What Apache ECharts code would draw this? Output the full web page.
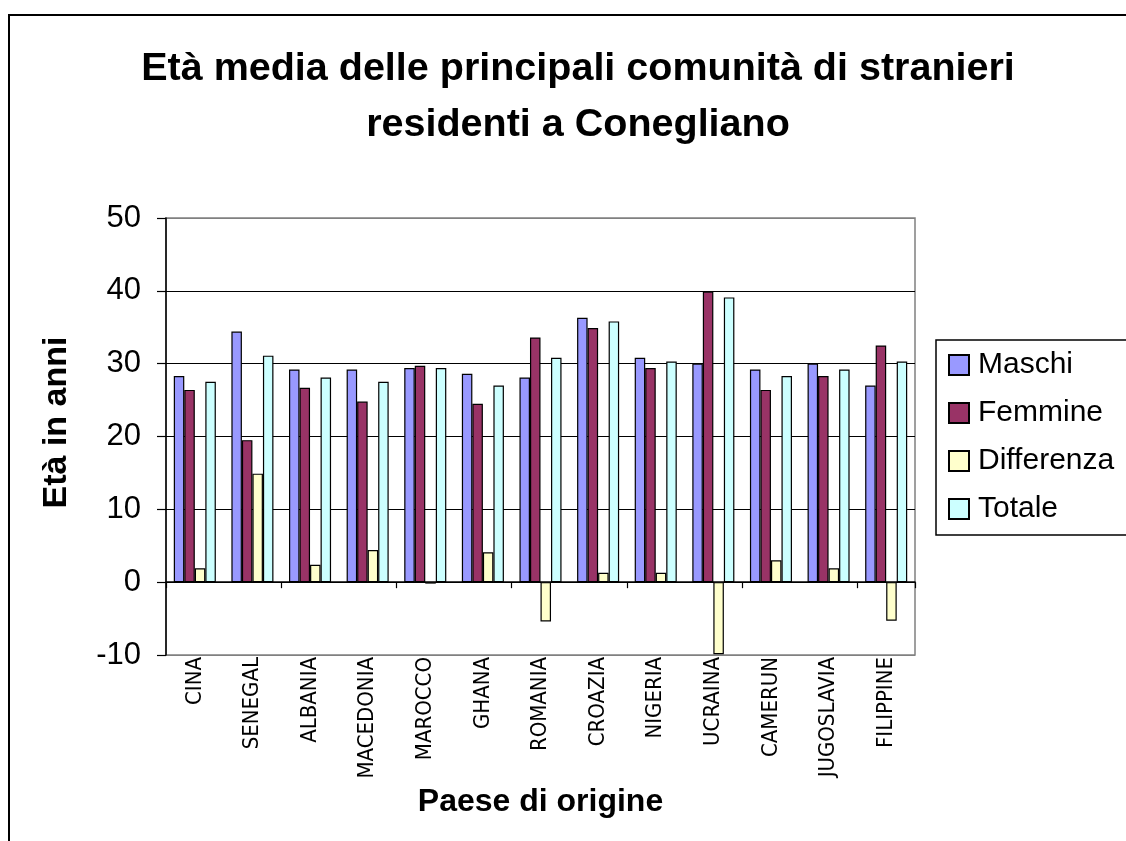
<!DOCTYPE html>
<html>
<head>
<meta charset="utf-8">
<title>Età media</title>
<script src="https://cdn.jsdelivr.net/npm/echarts@6/dist/echarts.min.js"></script>
<style>
    html, body { margin: 0; padding: 0; background: #fff; }
    #chart { width: 1126px; height: 841px; }
</style>
</head>
<body>
<div id="chart"></div>
<script>
// dati
var paesi = ['CINA', 'SENEGAL', 'ALBANIA', 'MACEDONIA', 'MAROCCO', 'GHANA', 'ROMANIA', 'CROAZIA', 'NIGERIA', 'UCRAINA', 'CAMERUN', 'JUGOSLAVIA', 'FILIPPINE'];
var maschi = [28.3, 34.4, 29.2, 29.2, 29.4, 28.6, 28.1, 36.3, 30.8, 30.0, 29.2, 30.0, 27.0];
var femmine = [26.4, 19.5, 26.7, 24.8, 29.7, 24.5, 33.6, 34.9, 29.4, 39.9, 26.4, 28.3, 32.5];
var differenza = [1.9, 14.9, 2.4, 4.4, -0.2, 4.1, -5.4, 1.3, 1.3, -9.9, 3.0, 1.9, -5.3];
var totale = [27.5, 31.1, 28.1, 27.5, 29.4, 27.0, 30.8, 35.8, 30.3, 39.1, 28.3, 29.2, 30.3];
var yTicks = [-10, 0, 10, 20, 30, 40, 50];

var font = '"Liberation Sans", Arial, sans-serif';

function bar(name, data, color) {
    return {
        name: name,
        type: 'bar',
        data: data,
        barGap: '0%',
        barCategoryGap: '27%',
        itemStyle: { color: color, borderColor: '#000', borderWidth: 1.2 }
    };
}

var chart = echarts.init(document.getElementById('chart'), null, { renderer: 'canvas' });

chart.setOption({
    backgroundColor: '#fff',
    animation: false,
    textStyle: { fontFamily: font },
    title: {
        text: 'Età media delle principali comunità di stranieri\nresidenti a Conegliano',
        left: 573,
        textAlign: 'center',
        top: 36,
        textStyle: { fontSize: 39.5, fontWeight: 'bold', color: '#000', lineHeight: 56, fontFamily: font }
    },
    // cornice esterna
    graphic: [{
        type: 'rect',
        shape: { x: 9, y: 15, width: 1300, height: 1000 },
        style: { fill: 'none', stroke: '#000', lineWidth: 2 },
        silent: true
    }],
    legend: {
        orient: 'vertical',
        left: 936,
        top: 340,
        padding: [10, 60, 11, 12],
        borderColor: '#000',
        borderWidth: 1.5,
        itemWidth: 20,
        itemHeight: 20,
        itemGap: 18,
        icon: 'rect',
        textStyle: { fontSize: 30, color: '#000', lineHeight: 30, padding: [0, 0, 0, 4], fontFamily: font },
        data: ['Maschi', 'Femmine', 'Differenza', 'Totale']
    },
    grid: {
        left: 166,
        right: 211,
        top: 218,
        bottom: 186,
        show: true,
        borderColor: '#808080',
        borderWidth: 1.5
    },
    xAxis: [{
        type: 'category',
        data: paesi,
        axisLine: { onZero: true, lineStyle: { color: '#000', width: 1.5 } },
        axisTick: { show: true, length: 6, lineStyle: { color: '#000', width: 1.2 } },
        axisLabel: { show: false }
    }, {
        type: 'category',
        data: paesi,
        position: 'bottom',
        axisLine: { show: false, onZero: false },
        axisTick: { show: false },
        axisLabel: {
            rotate: 90,
            margin: 2,
            fontSize: 22,
            color: '#000',
            fontFamily: '"Liberation Sans Narrow", "DejaVu Sans Condensed", "Liberation Sans", sans-serif'
        },
        name: 'Paese di origine',
        nameLocation: 'middle',
        nameGap: 124,
        nameTextStyle: { fontSize: 32, fontWeight: 'bold', color: '#000', fontFamily: font }
    }],
    yAxis: {
        type: 'value',
        min: yTicks[0],
        max: yTicks[yTicks.length - 1],
        interval: 10,
        axisLine: { show: true, lineStyle: { color: '#000', width: 1.5 } },
        axisTick: { show: true, length: 9, lineStyle: { color: '#000', width: 1.2 } },
        axisLabel: { fontSize: 31, color: '#000', margin: 25, fontFamily: font },
        splitLine: {
            show: true,
            lineStyle: { color: ['#808080', '#000', '#000', '#000', '#000', '#000', '#808080'], width: 1.2 }
        },
        name: 'Età in anni',
        nameLocation: 'middle',
        nameGap: 92,
        nameTextStyle: { fontSize: 34, fontWeight: 'bold', color: '#000', padding: [0, 0, 0, 28], fontFamily: font }
    },
    series: [
        bar('Maschi', maschi, '#9999FF'),
        bar('Femmine', femmine, '#993366'),
        bar('Differenza', differenza, '#FFFFCC'),
        bar('Totale', totale, '#CCFFFF')
    ]
});
</script>
</body>
</html>
